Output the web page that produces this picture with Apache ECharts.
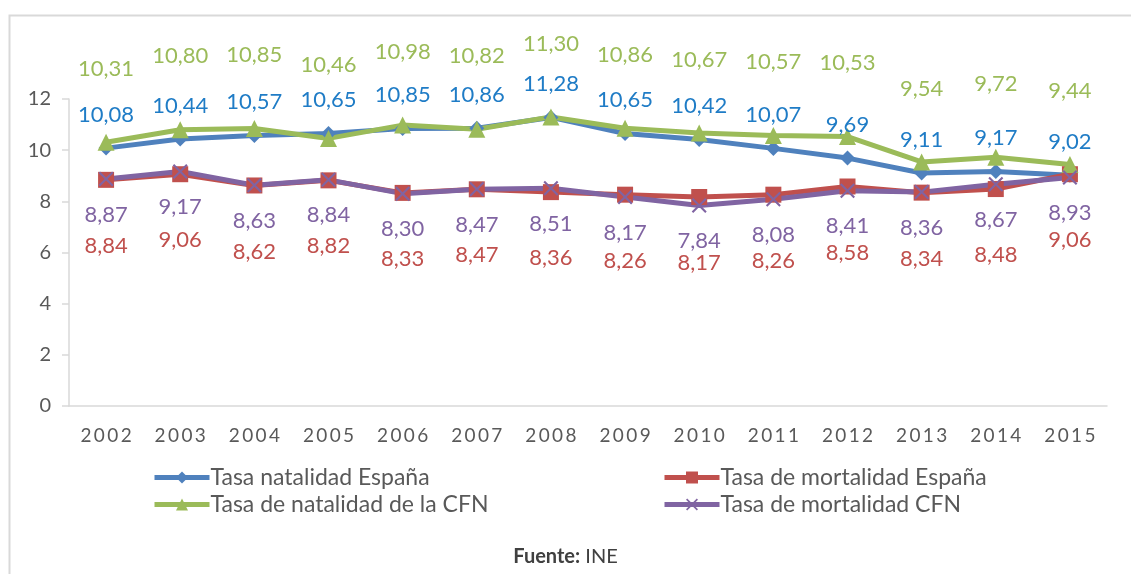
<!DOCTYPE html>
<html>
<head>
<meta charset="utf-8">
<script src="https://cdn.jsdelivr.net/npm/echarts@6/dist/echarts.min.js"></script>
<style>
  html, body { margin: 0; padding: 0; background: #fff; }
  #chart { width: 1131px; height: 574px; }
</style>
</head>
<body>
<div id="chart"></div>
<script>
const years = ['2002', '2003', '2004', '2005', '2006', '2007', '2008',
               '2009', '2010', '2011', '2012', '2013', '2014', '2015'];

const natalidadEspana = [10.08, 10.44, 10.57, 10.65, 10.85, 10.86, 11.28,
                         10.65, 10.42, 10.07, 9.69, 9.11, 9.17, 9.02];
const mortalidadEspana = [8.84, 9.06, 8.62, 8.82, 8.33, 8.47, 8.36,
                          8.26, 8.17, 8.26, 8.58, 8.34, 8.48, 9.06];
const natalidadCFN = [10.31, 10.80, 10.85, 10.46, 10.98, 10.82, 11.30,
                      10.86, 10.67, 10.57, 10.53, 9.54, 9.72, 9.44];
const mortalidadCFN = [8.87, 9.17, 8.63, 8.84, 8.30, 8.47, 8.51,
                       8.17, 7.84, 8.08, 8.41, 8.36, 8.67, 8.93];

const seriesNames = ['Tasa natalidad España', 'Tasa de mortalidad España',
                     'Tasa de natalidad de la CFN', 'Tasa de mortalidad CFN'];

const FONT = 'Lato, "Open Sans", sans-serif';
const fmt = p => p.value.toFixed(2).replace('.', ',');
// the source spaces the year digits out a little
const spaced = v => v.split('').join('\u2009');
const crossPath = 'path://M1,0L5,4L9,0L10,1L6,5L10,9L9,10L5,6L1,10L0,9L4,5L0,1Z';

function lineSeries(name, data, color, labelColor, symbol, size, pos, dist) {
    return {
        name: name,
        type: 'line',
        data: data,
        symbol: symbol,
        symbolSize: size,
        itemStyle: {color: color},
        lineStyle: {color: color, width: 5},
        label: {
            show: true,
            position: pos,
            distance: dist,
            formatter: fmt,
            color: labelColor,
            fontFamily: FONT,
            fontSize: 22
        },
        emphasis: {disabled: true}
    };
}

const chart = echarts.init(document.getElementById('chart'));

const legendBase = {
    orient: 'vertical',
    top: 466,
    padding: 0,
    itemWidth: 55,
    itemHeight: 15,
    itemGap: 4,
    lineStyle: {width: 5},
    textStyle: {color: '#595959', fontSize: 23, fontFamily: FONT, padding: [0, 0, 0, -4]}
};

chart.setOption({
    animation: false,
    textStyle: {fontFamily: FONT},
    grid: {left: 69, right: 24, top: 99, bottom: 168},
    xAxis: {
        type: 'category',
        data: years,
        boundaryGap: true,
        axisLine: {lineStyle: {color: '#d9d9d9', width: 1.5}},
        axisTick: {show: false},
        axisLabel: {color: '#595959', fontSize: 19, margin: 20, fontFamily: FONT, formatter: spaced}
    },
    yAxis: {
        type: 'value',
        min: 0,
        max: 12,
        interval: 2,
        axisLine: {show: true, lineStyle: {color: '#d9d9d9', width: 1.5}},
        axisTick: {show: true, inside: false, length: 7, lineStyle: {color: '#d9d9d9', width: 1.5}},
        splitLine: {show: false},
        axisLabel: {color: '#595959', fontSize: 20, margin: 18, fontFamily: FONT}
    },
    legend: [
        Object.assign({}, legendBase, {left: 152, data: [seriesNames[0], seriesNames[2]]}),
        Object.assign({}, legendBase, {left: 662, data: [seriesNames[1], seriesNames[3]]})
    ],
    graphic: [
        {
            type: 'rect',
            left: 7,
            top: 13,
            shape: {width: 1300, height: 700},
            style: {fill: 'none', stroke: '#d9d9d9', lineWidth: 2},
            silent: true
        },
        {
            type: 'text',
            left: 'center',
            top: 547,
            style: {
                text: '{b|Fuente:} INE',
                fill: '#404040',
                font: '20px ' + FONT,
                rich: {b: {fontWeight: 'bold', fontSize: 20, fill: '#404040', fontFamily: FONT}}
            }
        }
    ],
    series: [
        lineSeries(seriesNames[0], natalidadEspana, '#4f81bd', '#1f7cc6', 'diamond', 15, 'top', 15),
        lineSeries(seriesNames[1], mortalidadEspana, '#c0504d', '#c0504d', 'rect', 16, 'bottom', 47),
        lineSeries(seriesNames[2], natalidadCFN, '#9bbb59', '#9bbb59', 'triangle', 17, 'top', 54),
        lineSeries(seriesNames[3], mortalidadCFN, '#8064a2', '#8064a2', crossPath, 15, 'bottom', 17)
    ]
});
</script>
</body>
</html>
